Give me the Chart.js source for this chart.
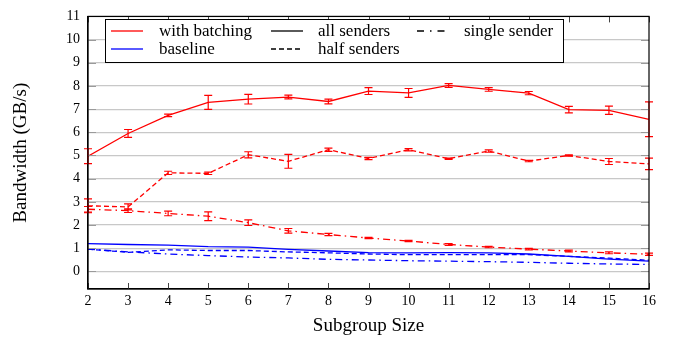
<!DOCTYPE html>
<html>
<head>
<meta charset="utf-8">
<script src="https://cdn.jsdelivr.net/npm/chart.js@4/dist/chart.umd.min.js"></script>
<style>
  html, body { margin: 0; padding: 0; background: #fff; }
  #wrap { width: 673px; height: 341px; position: relative; }
</style>
</head>
<body>
<div id="wrap"><canvas id="myChart"></canvas></div>
<script>
const sizes = [2, 3, 4, 5, 6, 7, 8, 9, 10, 11, 12, 13, 14, 15, 16];
const yTicks = [0, 1, 2, 3, 4, 5, 6, 7, 8, 9, 10, 11];

// with batching
const batchAll = [4.97, 5.95, 6.73, 7.29, 7.43, 7.52, 7.33, 7.78, 7.70, 8.02, 7.85, 7.69, 6.98, 6.95, 6.56];
const batchAllErr = [0.32, 0.17, 0.05, 0.30, 0.21, 0.08, 0.10, 0.15, 0.19, 0.08, 0.08, 0.07, 0.14, 0.18, 0.75];
const batchHalf = [2.83, 2.78, 4.25, 4.23, 5.03, 4.75, 5.25, 4.87, 5.25, 4.86, 5.19, 4.76, 5.00, 4.74, 4.64];
const batchHalfErr = [0.30, 0.13, 0.07, 0.05, 0.13, 0.30, 0.07, 0.05, 0.05, 0.03, 0.05, 0.03, 0.03, 0.13, 0.25];
const batchSingle = [2.68, 2.62, 2.50, 2.38, 2.10, 1.75, 1.59, 1.44, 1.31, 1.16, 1.05, 0.96, 0.88, 0.80, 0.74];
const batchSingleErr = [0.12, 0.08, 0.10, 0.19, 0.12, 0.10, 0.05, 0.03, 0.03, 0.04, 0.03, 0.03, 0.04, 0.04, 0.05];

// baseline
const baseAll = [1.20, 1.16, 1.13, 1.07, 1.05, 0.95, 0.88, 0.81, 0.80, 0.81, 0.80, 0.75, 0.65, 0.53, 0.44];
const baseHalf = [0.96, 0.82, 0.93, 0.90, 0.90, 0.84, 0.80, 0.75, 0.72, 0.72, 0.72, 0.72, 0.65, 0.57, 0.48];
const baseSingle = [0.96, 0.84, 0.75, 0.68, 0.62, 0.58, 0.52, 0.49, 0.46, 0.44, 0.42, 0.39, 0.35, 0.32, 0.30];

const colorLabels = ['with batching', 'baseline'];
const styleLabels = ['all senders', 'half senders', 'single sender'];

const RED = '#ff0000';
const BLUE = '#0000ff';
const DASHED = [5, 3];
const DASHDOT = [7, 4, 1.5, 4];
const SERIF = '"Liberation Serif", "Times New Roman", serif';

const pts = (ys) => ys.map((y, i) => ({ x: sizes[i], y: y }));

function line(label, ys, color, dash, errs) {
    return {
        label: label,
        data: pts(ys),
        errors: errs,
        borderColor: color,
        backgroundColor: color,
        borderWidth: 1.3,
        borderDash: dash,
        pointRadius: 0,
        tension: 0,
        fill: false,
    };
}

// error bars, drawn through the scales
const errorBars = {
    id: 'errorBars',
    afterDatasetsDraw(chart) {
        const { ctx, scales: { x, y } } = chart;
        ctx.save();
        ctx.setLineDash([]);
        ctx.lineWidth = 1.2;
        chart.data.datasets.forEach((ds) => {
            if (!ds.errors) return;
            ctx.strokeStyle = ds.borderColor;
            ds.data.forEach((p, i) => {
                const e = ds.errors[i];
                const px = x.getPixelForValue(p.x);
                const top = y.getPixelForValue(p.y + e);
                const bot = y.getPixelForValue(p.y - e);
                ctx.beginPath();
                ctx.moveTo(px, top); ctx.lineTo(px, bot);
                ctx.moveTo(px - 4, top); ctx.lineTo(px + 4, top);
                ctx.moveTo(px - 4, bot); ctx.lineTo(px + 4, bot);
                ctx.stroke();
            });
        });
        ctx.restore();
    }
};

// frame, inward ticks and the legend box
const frame = {
    id: 'frame',
    afterDraw(chart) {
        const { ctx, chartArea: a, scales: { x, y } } = chart;
        ctx.save();
        ctx.setLineDash([]);

        ctx.strokeStyle = '#9a9a9a';
        ctx.lineWidth = 1;
        yTicks.forEach((v) => {
            const py = Math.round(y.getPixelForValue(v)) + 0.5;
            ctx.beginPath();
            ctx.moveTo(a.left, py); ctx.lineTo(a.left + 8, py);
            ctx.moveTo(a.right - 8, py); ctx.lineTo(a.right, py);
            ctx.stroke();
        });
        ctx.strokeStyle = '#444';
        sizes.forEach((v) => {
            const px = Math.round(x.getPixelForValue(v)) + 0.5;
            ctx.beginPath();
            ctx.moveTo(px, a.bottom); ctx.lineTo(px, a.bottom - 6);
            ctx.moveTo(px, a.top); ctx.lineTo(px, a.top + 6);
            ctx.stroke();
        });

        ctx.strokeStyle = '#000';
        ctx.lineWidth = 1.2;
        ctx.strokeRect(a.left, a.top, a.right - a.left, a.bottom - a.top);

        // legend
        const bx = 105, by = 19, bw = 458, bh = 43;
        ctx.fillStyle = '#fff';
        ctx.fillRect(bx, by, bw, bh);
        ctx.lineWidth = 1;
        ctx.strokeStyle = '#000';
        ctx.strokeRect(bx + 0.5, by + 0.5, bw, bh);

        const rows = [31, 49];
        const items = [
            { text: colorLabels[0], color: RED, dash: [], lx: 111, lw: 32, tx: 159, row: 0 },
            { text: colorLabels[1], color: BLUE, dash: [], lx: 111, lw: 32, tx: 159, row: 1 },
            { text: styleLabels[0], color: '#000', dash: [], lx: 271, lw: 32, tx: 318, row: 0 },
            { text: styleLabels[1], color: '#000', dash: DASHED, lx: 271, lw: 32, tx: 318, row: 1 },
            { text: styleLabels[2], color: '#000', dash: [7, 6, 1.5, 6], lx: 417, lw: 29, tx: 464, row: 0 },
        ];
        ctx.font = '17px ' + SERIF;
        ctx.textBaseline = 'middle';
        ctx.textAlign = 'left';
        items.forEach((it) => {
            const ly = rows[it.row];
            ctx.strokeStyle = it.color;
            ctx.lineWidth = 1.3;
            ctx.setLineDash(it.dash);
            ctx.beginPath();
            ctx.moveTo(it.lx, ly); ctx.lineTo(it.lx + it.lw, ly);
            ctx.stroke();
            ctx.setLineDash([]);
            ctx.fillStyle = '#000';
            ctx.fillText(it.text, it.tx, ly + 1);
        });
        ctx.restore();
    }
};

Chart.defaults.color = '#000';
Chart.defaults.font.family = SERIF;

const data = {
    datasets: [
        line('with batching, all senders', batchAll, RED, [], batchAllErr),
        line('with batching, half senders', batchHalf, RED, DASHED, batchHalfErr),
        line('with batching, single sender', batchSingle, RED, DASHDOT, batchSingleErr),
        line('baseline, all senders', baseAll, BLUE, [], null),
        line('baseline, half senders', baseHalf, BLUE, DASHED, null),
        line('baseline, single sender', baseSingle, BLUE, DASHDOT, null),
    ]
};

const config = {
    type: 'line',
    data: data,
    options: {
        responsive: true,
        maintainAspectRatio: false,
        animation: false,
        layout: { padding: { top: 10, right: 24, left: 0, bottom: 0 } },
        plugins: {
            legend: { display: false },
            tooltip: { enabled: false },
        },
        scales: {
            x: {
                type: 'linear',
                min: 2,
                max: 16,
                afterBuildTicks: (s) => { s.ticks = sizes.map((v) => ({ value: v })); },
                afterFit: (s) => { s.height = 52; },
                grid: { display: false, drawTicks: false },
                border: { display: true, color: '#000', width: 1.2 },
                ticks: { padding: 4, font: { size: 14 }, maxRotation: 0 },
                title: {
                    display: true,
                    text: 'Subgroup Size',
                    font: { size: 19 },
                    padding: { top: 0, bottom: 4 },
                },
            },
            y: {
                type: 'linear',
                min: -0.76,
                max: 11,
                afterBuildTicks: (s) => { s.ticks = yTicks.map((v) => ({ value: v })); },
                afterFit: (s) => { s.width = 88; },
                grid: { color: '#c8c8c8', lineWidth: 1.2, drawTicks: false },
                border: { display: true, color: '#000', width: 1.2 },
                ticks: { padding: 8, font: { size: 14 } },
                title: {
                    display: true,
                    text: 'Bandwidth (GB/s)',
                    font: { size: 19 },
                    padding: { top: 10, bottom: 0 },
                },
            },
        },
    },
    plugins: [errorBars, frame],
};

const chart = new Chart(
    document.getElementById('myChart'),
    config
);
</script>
</body>
</html>
